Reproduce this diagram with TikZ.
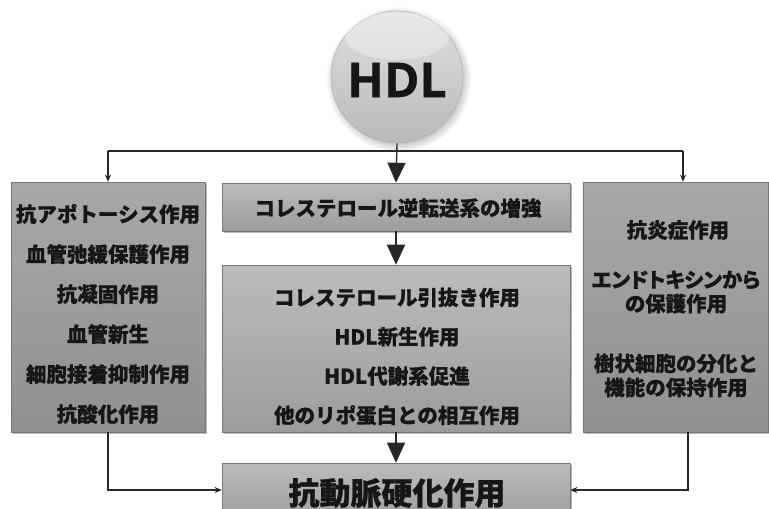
\documentclass[tikz,border=0pt]{standalone}
\usepackage{fontspec}
\newfontfamily\jp{Noto Sans CJK JP}[BoldFeatures={FakeBold=0.8}]
\newfontfamily\jpp{Noto Sans CJK JP}[RawFeature=+palt, BoldFeatures={FakeBold=0.8}]
\newfontfamily\hdlfont{Open Sans}[BoldFeatures={FakeBold=0.6}]
\usetikzlibrary{shadows,arrows.meta}
\definecolor{ctop}{RGB}{188,188,188}
\definecolor{cbot}{RGB}{156,156,156}
\definecolor{stop}{RGB}{168,168,168}
\definecolor{sbot}{RGB}{144,144,144}
\definecolor{edge}{RGB}{118,118,118}
\definecolor{ink}{RGB}{22,22,22}
\tikzset{
  boxbase/.style={rectangle, draw=edge, line width=0.6pt, inner sep=0pt,
    drop shadow={shadow xshift=1.5pt, shadow yshift=-1.5pt, opacity=0.45, fill=black!60}},
  cbox/.style={boxbase, top color=ctop, bottom color=cbot},
  sbox/.style={boxbase, top color=stop, bottom color=sbot},
  jtxt/.style={font=\jp\bfseries\fontsize{20.5}{40}\selectfont, text=ink, align=center, inner sep=0pt},
  rtxt/.style={font=\jp\bfseries\fontsize{20.5}{24}\selectfont, text=ink, align=center, inner sep=0pt},
  conn/.style={line width=1.3pt, draw=black!85},
  bigarrow/.style={conn, -{Triangle[width=18pt,length=20pt]}},
  smallarrow/.style={conn, -{Stealth[width=6pt,length=7pt]}}
}
\begin{document}
\begin{tikzpicture}[x=1pt,y=-1pt]
\useasboundingbox (0,0) rectangle (769,509);
% HDL circle
\node[circle, minimum size=132pt, inner sep=0pt, draw=gray!60, line width=0.6pt,
  top color=gray!24, bottom color=gray!55,
  circular drop shadow={shadow xshift=1.5pt, shadow yshift=-2pt, opacity=0.4, fill=black!60}]
  (hdl) at (397,77) {};
\fill[white, opacity=0.3] (397,36) ellipse [x radius=52pt, y radius=24pt];
\node[font=\hdlfont\bfseries\fontsize{48}{48}\selectfont, text=ink, inner sep=0pt]
  (hdltxt) at (397,80) {HDL};

% boxes
\node[sbox, minimum width=194pt, minimum height=250pt] (left) at (108,307) {};
\node[cbox, minimum width=348pt, minimum height=48pt] (ctopbox) at (396,207) {};
\node[cbox, minimum width=348pt, minimum height=167pt] (cmid) at (396,348.5) {};
\node[cbox, minimum width=348pt, minimum height=60pt] (bottom) at (396,493) {};
\node[sbox, minimum width=185pt, minimum height=250pt] (right) at (675.5,307) {};

% texts
\node[jtxt] (lt) at (108,314) {抗アポトーシス作用\\血管弛緩保護作用\\抗凝固作用\\血管新生\\細胞接着抑制作用\\抗酸化作用};
\node[jtxt] (ct) at (398,208) {コレステロール逆転送系の増強};
\node[jtxt, font=\jp\bfseries\fontsize{20.5}{39.3}\selectfont] (mt) at (397,356.5)
  {コレステロール引抜き作用\\HDL新生作用\\HDL代謝系促進\\他のリポ蛋白との相互作用};
\node[jtxt, font=\jp\bfseries\fontsize{31}{31}\selectfont] (bt) at (397,493) {抗動脈硬化作用};
\node[rtxt] (rt1) at (678,230) {抗炎症作用};
\node[rtxt, font=\jpp\bfseries\fontsize{20.5}{24}\selectfont] (rt2) at (676,292) {エンドトキシンから\\の保護作用};
\node[rtxt] (rt3) at (676,375.5) {樹状細胞の分化と\\機能の保持作用};

% connectors
\coordinate (jl) at (108,151);
\coordinate (jr) at (683,151);
\coordinate (rb) at (688,432);
\draw[conn] (jl) -- (jr);
\draw[smallarrow] (jl) -- (left.north);
\draw[smallarrow] (jr) -- (jr |- right.north);
\draw[bigarrow] (hdl.south) -- (ctopbox.north);
\draw[bigarrow] (ctopbox.south) -- (cmid.north);
\draw[bigarrow] (cmid.south) -- (bottom.north);
\draw[smallarrow] (left.south) |- ([yshift=3pt]bottom.west);
\draw[smallarrow] (rb) |- ([yshift=3pt]bottom.east);
\end{tikzpicture}
\end{document}
